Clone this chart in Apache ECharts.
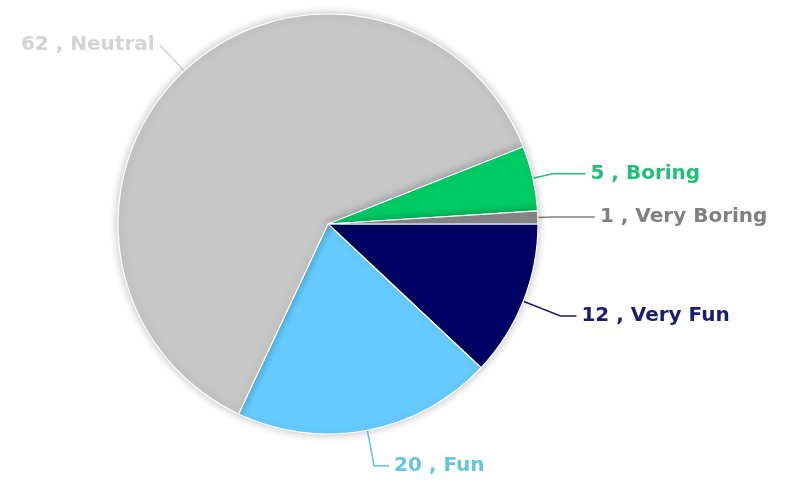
<!DOCTYPE html>
<html>
<head>
<meta charset="utf-8">
<script src="https://cdn.jsdelivr.net/npm/echarts@6/dist/echarts.min.js"></script>
<style>
html,body{margin:0;padding:0;background:#fff;}
#chart{width:793px;height:487px;}
</style>
</head>
<body>
<div id="chart"></div>
<script>
const categories = ["Very Fun", "Fun", "Neutral", "Boring", "Very Boring"];
const values = [12, 20, 62, 5, 1];
const sliceColors = ["#000066", "#66ccff", "#c6c6c6", "#00cc66", "#888888"];
const labelColors = ["#1c1c6e", "#66c6e0", "#d4d4d4", "#1fc07a", "#808080"];
const lineLengths = [40, 36, 36, 20, 15];
const lineLengths2 = [16, 15, 0, 33, 42];

const chart = echarts.init(document.getElementById('chart'));
const data = categories.map((name, i) => ({
  name: name,
  value: values[i],
  itemStyle: { color: sliceColors[i] },
  label: { color: labelColors[i] },
  labelLine: {
    length: lineLengths[i],
    length2: lineLengths2[i],
    lineStyle: { color: labelColors[i], width: 1.5 }
  }
}));

chart.setOption({
  animation: false,
  backgroundColor: '#ffffff',
  series: [{
    type: 'pie',
    center: [328, 224],
    radius: [0, 210],
    startAngle: 0,
    clockwise: true,
    avoidLabelOverlap: false,
    data: data,
    itemStyle: {
      borderColor: '#ffffff',
      borderWidth: 1.2,
      shadowBlur: 8,
      shadowColor: 'rgba(0,0,0,0.25)'
    },
    label: {
      show: true,
      position: 'outside',
      formatter: '{c} , {b}',
      fontFamily: 'DejaVu Sans',
      fontSize: 20,
      fontWeight: 'bold',
      distanceToLabelLine: 5
    },
    labelLine: { show: true, smooth: false }
  }]
});
</script>
</body>
</html>
